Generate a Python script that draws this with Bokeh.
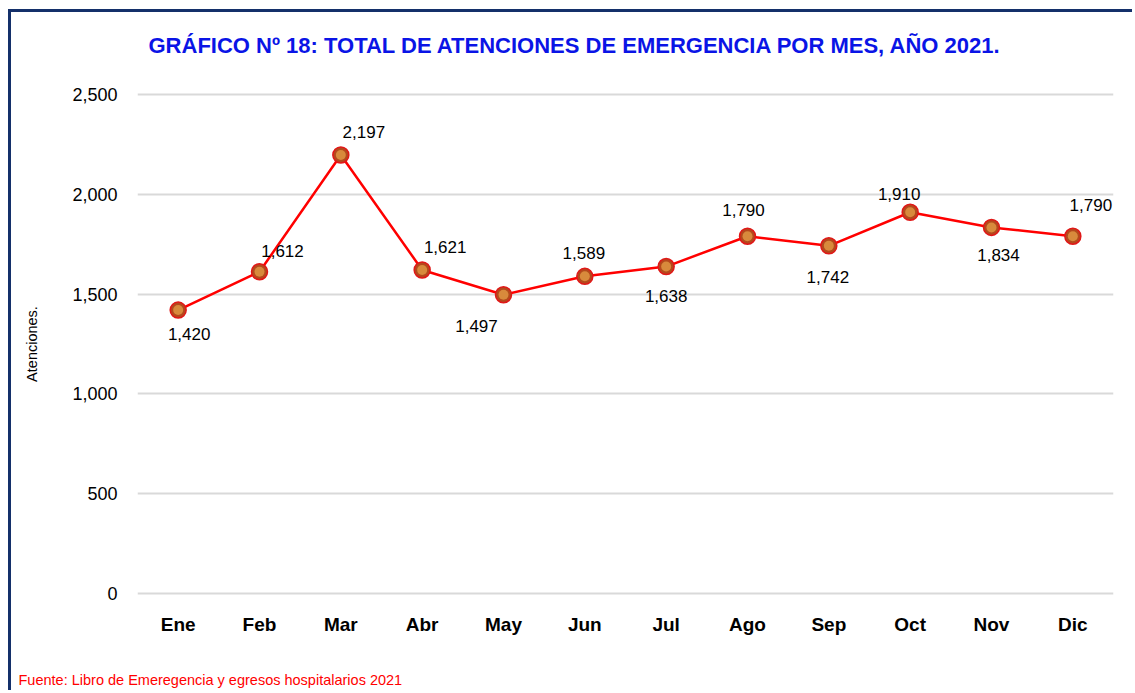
from bokeh.plotting import figure
from bokeh.models import ColumnDataSource, Range1d, NumeralTickFormatter, FixedTicker, Title
from bokeh.core.properties import value
from bokeh.embed import file_html
from bokeh.resources import INLINE

months = ["Ene", "Feb", "Mar", "Abr", "May", "Jun", "Jul", "Ago", "Sep", "Oct", "Nov", "Dic"]
atenciones = [1420, 1612, 2197, 1621, 1497, 1589, 1638, 1790, 1742, 1910, 1834, 1790]
y_ticks = [0, 500, 1000, 1500, 2000, 2500]
title_text = "GRÁFICO Nº 18: TOTAL DE ATENCIONES DE EMERGENCIA POR MES, AÑO 2021."
source_text = "Fuente: Libro de Emeregencia y egresos hospitalarios 2021"

# label placement offsets (pixels), style only
label_dx = [11, 23, 23, 23, -27, -1, 0, -4, -1, -11, 7, 18]
label_dy = [24, -21, -23, -23, 31, -23, 29, -26, 31, -18, 28, -31]

FONT = "Liberation Sans"

src = ColumnDataSource(dict(
    m=months, v=atenciones,
    lab=[f"{v:,}" for v in atenciones],
    dx=label_dx, dy=label_dy,
))

p = figure(width=1124, height=681, x_range=months, y_range=Range1d(-25, 2525),
           output_backend="svg", toolbar_location=None, title=None,
           min_border_left=126, min_border_right=22, min_border_top=77, min_border_bottom=95)
p.styles = {"margin-left": "8px", "margin-top": "9px",
            "border-left": "3px solid #14306a", "border-top": "3px solid #14306a"}
p.outline_line_color = None
p.background_fill_color = "white"
p.border_fill_color = "white"

p.xgrid.grid_line_color = None
p.ygrid.grid_line_color = "#d9d9d9"
p.ygrid.grid_line_width = 2

p.yaxis.ticker = FixedTicker(ticks=y_ticks)
p.yaxis.formatter = NumeralTickFormatter(format="0,0")
for ax in (p.xaxis[0], p.yaxis[0]):
    ax.axis_line_color = None
    ax.major_tick_line_color = None
    ax.minor_tick_line_color = None
    ax.major_tick_out = 0
    ax.major_tick_in = 0
    ax.major_label_text_font = FONT
    ax.major_label_text_color = "black"

p.yaxis.major_label_text_font_size = "18px"
p.yaxis.major_label_standoff = 20
p.xaxis.major_label_text_font_size = "19px"
p.xaxis.major_label_text_font_style = "bold"
p.xaxis.major_label_standoff = 15

p.yaxis.axis_label = "Atenciones."
p.yaxis.axis_label_text_font = FONT
p.yaxis.axis_label_text_font_size = "14.5px"
p.yaxis.axis_label_text_font_style = "normal"
p.yaxis.axis_label_text_color = "black"
p.yaxis.axis_label_standoff = 29

# spacer between frame and title, then the title
p.add_layout(Title(text=" ", text_font_size="10px", standoff=17), "above")
p.add_layout(Title(text=title_text, text_font=FONT, text_font_size="22px",
                   text_font_style="bold", text_color="#0a14e6",
                   align="left", offset=11, standoff=4), "above")

# spacer between axis and source note, then the note
p.add_layout(Title(text=" ", text_font_size="10px", standoff=19), "below")
p.add_layout(Title(text=source_text, text_font=FONT, text_font_size="14.5px",
                   text_font_style="normal", text_color="#ff0000",
                   align="left", offset=-119, standoff=0), "below")

p.line("m", "v", source=src, line_color="#ff0000", line_width=2.5)
p.scatter("m", "v", source=src, size=16, fill_color="#b5481c", line_color="#e01818", line_width=1.5)
p.scatter("m", "v", source=src, size=10, fill_color="#d88a3c", line_color=None)

p.text("m", "v", text="lab", source=src, x_offset="dx", y_offset="dy",
       text_align="center", text_baseline="middle",
       text_font=value(FONT), text_font_size="17px", text_color="black")

open("out.html", "w").write(file_html(p, INLINE))
